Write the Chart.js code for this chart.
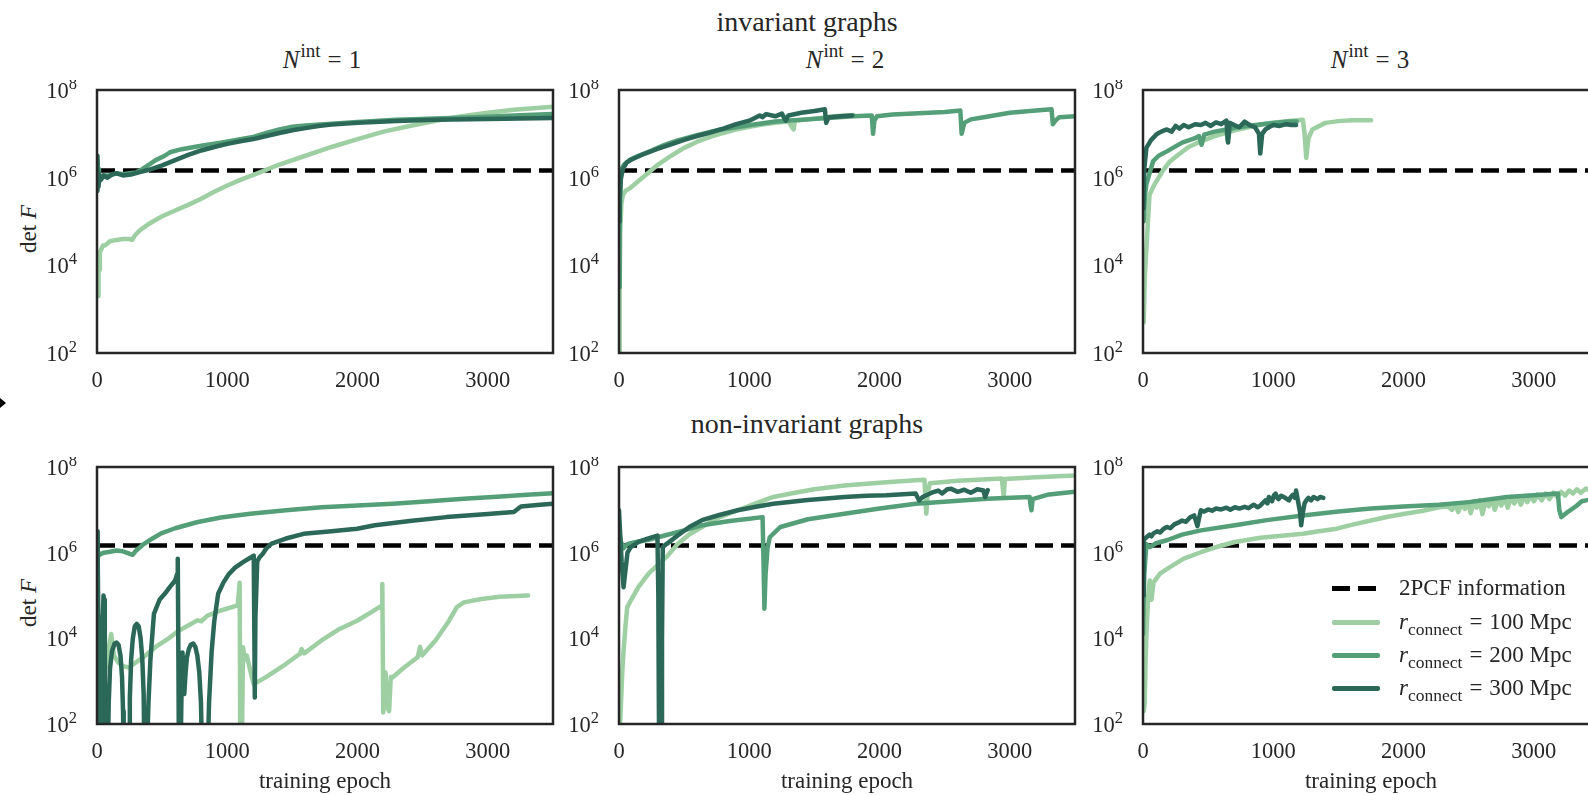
<!DOCTYPE html>
<html>
<head>
<meta charset="utf-8">
<script src="https://cdn.jsdelivr.net/npm/chart.js@4.4.1/dist/chart.umd.min.js"></script>
<style>
  html, body { margin: 0; padding: 0; background: #fff; }
  body { width: 1588px; height: 795px; position: relative; overflow: hidden;
         font-family: "Liberation Serif", "Times New Roman", serif; color: #262626; }
  canvas { position: absolute; }
  .rowTitle { position: absolute; font-size: 28px; transform: translate(-50%, -50%); white-space: nowrap; }
  .subTitle { position: absolute; font-size: 25px; transform: translate(-50%, -50%); white-space: nowrap; }
  .subTitle sup { font-size: 19px; vertical-align: 0; position: relative; top: -11px; margin-left: 1px; }
  .eq { margin: 0 7px; }
  .ylab { position: absolute; font-size: 23px; white-space: nowrap; transform: translate(-50%, -50%) rotate(-90deg); }
  .legRow { position: absolute; font-size: 23px; white-space: nowrap; transform: translateY(-50%); }
  .legRow sub { font-size: 17.5px; vertical-align: 0; position: relative; top: 6px; }
  .legLine { position: absolute; height: 4.5px; width: 48px; }
  .marker { position: absolute; left: 0; top: 398px; width: 0; height: 0;
            border-left: 6px solid #000; border-top: 5px solid transparent; border-bottom: 5px solid transparent; }
</style>
</head>
<body>
<div class="marker"></div>

<div class="rowTitle" style="left:807px; top:22px;">invariant graphs</div>
<div class="rowTitle" style="left:807px; top:424px;">non-invariant graphs</div>

<div class="subTitle" style="left:322px; top:60px;"><i>N</i><sup>int</sup><span class="eq">=</span>1</div>
<div class="subTitle" style="left:845px; top:60px;"><i>N</i><sup>int</sup><span class="eq">=</span>2</div>
<div class="subTitle" style="left:1370px; top:60px;"><i>N</i><sup>int</sup><span class="eq">=</span>3</div>

<div class="ylab" style="left:29px; top:229px;">det <i>F</i></div>
<div class="ylab" style="left:29px; top:603px;">det <i>F</i></div>

<canvas id="c1"></canvas>
<canvas id="c2"></canvas>
<canvas id="c3"></canvas>
<canvas id="c4"></canvas>
<canvas id="c5"></canvas>
<canvas id="c6"></canvas>

<div id="legend"></div>

<script>
// =========================
// DATA  ([epoch, log10 det F])
// =========================
const xTicks = [0, 1000, 2000, 3000];
const yExponents = [2, 4, 6, 8];
const twoPCF = 6.165;            // log10 of the 2PCF information level
const seriesNames = ['100', '200', '300'];   // r_connect in Mpc

// invariant graphs, N_int = 1
const inv1_r100 = [[8,3.3],[12,4.2],[16,3.9],[22,4.3],[30,4.35],[45,4.45],[60,4.45],[80,4.5],[100,4.55],[150,4.58],[200,4.6],[250,4.6],[270,4.58],[290,4.68],[330,4.8],[400,4.95],[500,5.12],[600,5.25],[700,5.38],[800,5.52],[900,5.68],[1000,5.82],[1100,5.95],[1250,6.12],[1400,6.3],[1600,6.5],[1800,6.7],[2000,6.88],[2200,7.05],[2400,7.18],[2600,7.3],[2800,7.4],[3000,7.48],[3200,7.55],[3500,7.62]];
const inv1_r200 = [[0,6.0],[3,6.4],[6,5.8],[10,6.2],[15,5.9],[25,6.05],[40,6.0],[60,6.05],[100,6.05],[150,6.1],[200,6.08],[250,6.1],[300,6.12],[350,6.2],[400,6.3],[450,6.4],[520,6.5],[560,6.58],[650,6.65],[800,6.73],[950,6.8],[1100,6.88],[1200,6.93],[1300,7.02],[1400,7.1],[1500,7.16],[1600,7.19],[1800,7.23],[2000,7.27],[2300,7.32],[2600,7.35],[2900,7.38],[3200,7.42],[3500,7.45]];
const inv1_r300 = [[0,6.0],[2,6.5],[5,5.7],[8,6.1],[12,5.8],[18,6.05],[30,5.95],[50,6.05],[80,6.0],[120,6.08],[150,6.1],[200,6.05],[260,6.07],[320,6.12],[400,6.18],[500,6.28],[600,6.4],[700,6.52],[800,6.62],[900,6.7],[1000,6.77],[1100,6.83],[1200,6.88],[1300,6.95],[1400,7.02],[1500,7.08],[1600,7.13],[1700,7.18],[1800,7.21],[2000,7.25],[2300,7.29],[2600,7.32],[3000,7.34],[3500,7.36]];

// invariant graphs, N_int = 2
const inv2_r100 = [[0,1.8],[5,3.5],[10,4.8],[18,5.4],[30,5.6],[50,5.7],[80,5.75],[120,5.85],[200,6.05],[300,6.3],[400,6.5],[500,6.68],[600,6.82],[700,6.93],[800,7.02],[900,7.1],[1000,7.16],[1100,7.21],[1200,7.25],[1300,7.28],[1340,7.1],[1350,7.3],[1450,7.33],[1550,7.36],[1650,7.4],[1800,7.43]];
const inv2_r200 = [[0,3.5],[5,5.0],[10,5.8],[20,6.2],[40,6.3],[80,6.4],[150,6.5],[250,6.62],[350,6.75],[450,6.85],[600,6.97],[750,7.08],[900,7.15],[1050,7.22],[1200,7.28],[1400,7.32],[1600,7.36],[1800,7.4],[1940,7.42],[1950,7.0],[1960,7.3],[1980,7.4],[2100,7.44],[2300,7.47],[2500,7.5],[2620,7.53],[2630,7.0],[2650,7.25],[2700,7.33],[2800,7.38],[3000,7.48],[3200,7.53],[3320,7.56],[3330,7.22],[3350,7.3],[3380,7.38],[3500,7.4]];
const inv2_r300 = [[0,5.0],[5,5.5],[15,6.0],[30,6.2],[60,6.35],[100,6.42],[200,6.55],[300,6.66],[400,6.76],[500,6.86],[600,6.95],[700,7.03],[800,7.12],[900,7.22],[1000,7.3],[1080,7.42],[1100,7.38],[1130,7.45],[1200,7.4],[1250,7.46],[1280,7.3],[1300,7.42],[1400,7.48],[1500,7.52],[1580,7.56],[1590,7.25],[1610,7.38],[1700,7.4],[1790,7.42]];

// invariant graphs, N_int = 3
const inv3_r100 = [[5,2.7],[15,3.8],[30,4.6],[50,5.6],[80,5.8],[104,5.92],[150,6.15],[200,6.35],[261,6.5],[350,6.7],[444,6.83],[550,6.95],[705,7.08],[850,7.18],[966,7.24],[1100,7.29],[1227,7.32],[1240,7.0],[1253,6.45],[1270,6.9],[1300,7.1],[1400,7.25],[1500,7.29],[1600,7.31],[1750,7.31]];
const inv3_r200 = [[5,5.0],[15,5.6],[26,5.85],[50,6.1],[78,6.38],[120,6.5],[183,6.6],[300,6.8],[400,6.9],[430,6.95],[450,6.75],[470,6.98],[550,7.05],[640,7.1],[650,6.85],[665,7.1],[705,7.14],[800,7.18],[914,7.22],[1000,7.25],[1123,7.28],[1180,7.28]];
const inv3_r300 = [[3,5.3],[10,6.2],[26,6.68],[60,6.85],[104,6.99],[140,7.05],[183,7.1],[220,7.05],[250,7.18],[280,7.12],[313,7.2],[350,7.15],[400,7.22],[444,7.2],[480,7.25],[520,7.18],[560,7.26],[600,7.22],[640,7.3],[653,6.8],[665,7.25],[700,7.2],[740,7.15],[780,7.28],[820,7.2],[860,7.15],[890,7.0],[900,6.55],[915,7.0],[940,7.1],[966,7.15],[1000,7.2],[1050,7.18],[1100,7.22],[1140,7.2],[1175,7.2]];

// non-invariant graphs, N_int = 1
const non1_r100 = [[0,1.0],[8,1.5],[12,3.5],[20,2.8],[30,3.3],[50,3.0],[80,3.6],[109,4.1],[130,3.6],[160,3.45],[200,3.35],[246,3.32],[280,3.4],[355,3.56],[450,3.8],[550,4.0],[629,4.18],[700,4.3],[770,4.42],[800,4.4],[848,4.53],[950,4.65],[1080,4.77],[1095,5.3],[1100,1.0],[1110,1.0],[1121,3.79],[1135,3.5],[1150,3.6],[1180,3.2],[1203,2.93],[1300,3.1],[1449,3.4],[1558,3.64],[1570,3.75],[1590,3.65],[1723,3.95],[1850,4.2],[1996,4.41],[2100,4.6],[2188,4.77],[2190,5.27],[2197,2.27],[2215,3.2],[2225,2.4],[2242,2.3],[2255,3.1],[2270,3.09],[2350,3.3],[2461,3.56],[2480,3.8],[2495,3.6],[2598,3.95],[2700,4.4],[2762,4.73],[2816,4.84],[2950,4.92],[3090,4.97],[3309,5.0]];
const non1_r200 = [[0,6.4],[5,5.8],[10,6.0],[20,5.95],[50,6.0],[100,6.02],[150,6.05],[200,6.03],[273,5.95],[300,6.05],[350,6.18],[420,6.32],[492,6.45],[600,6.57],[766,6.71],[950,6.82],[1176,6.91],[1450,6.99],[1723,7.06],[2000,7.1],[2270,7.14],[2550,7.2],[2816,7.26],[3100,7.31],[3300,7.35],[3500,7.39]];
const non1_r300 = [[0,6.5],[5,6.0],[10,4.5],[15,3.0],[20,1.0],[30,1.0],[40,4.0],[50,5.0],[55,4.9],[60,3.0],[70,1.0],[82,1.0],[90,2.5],[100,3.3],[115,3.7],[135,3.88],[150,3.9],[165,3.85],[180,3.6],[192,3.1],[200,2.3],[205,1.0],[246,1.0],[252,2.6],[262,3.5],[275,4.0],[290,4.28],[305,4.34],[320,4.28],[335,4.0],[348,3.5],[358,2.7],[365,1.0],[380,1.0],[395,2.5],[410,3.5],[437,4.57],[480,4.9],[520,5.04],[560,5.2],[600,5.35],[615,5.5],[620,5.86],[625,3.48],[629,1.0],[640,1.0],[650,3.0],[656,3.67],[662,3.2],[670,2.7],[680,3.2],[690,3.55],[705,3.75],[720,3.85],[738,3.88],[755,3.8],[770,3.6],[785,3.2],[798,2.5],[808,1.0],[848,1.0],[860,2.5],[880,3.7],[900,4.4],[930,5.04],[970,5.3],[1012,5.5],[1060,5.65],[1121,5.78],[1170,5.87],[1203,5.93],[1208,4.0],[1211,2.62],[1216,4.5],[1230,5.8],[1250,5.9],[1271,5.97],[1300,6.1],[1340,6.21],[1450,6.33],[1586,6.44],[1800,6.5],[1996,6.56],[2133,6.64],[2400,6.74],[2680,6.83],[3000,6.9],[3199,6.95],[3254,7.08],[3400,7.12],[3500,7.14]];

// non-invariant graphs, N_int = 2
const non2_r100 = [[0,1.8],[10,2.1],[25,3.2],[35,3.71],[50,4.3],[63,4.73],[90,4.88],[150,5.2],[227,5.51],[300,5.72],[364,5.9],[450,6.2],[537,6.42],[637,6.6],[750,6.8],[911,6.99],[1050,7.15],[1184,7.3],[1350,7.4],[1500,7.48],[1730,7.57],[2000,7.63],[2277,7.69],[2345,7.7],[2352,7.2],[2359,6.91],[2370,7.4],[2386,7.62],[2600,7.68],[2939,7.73],[2946,7.5],[2953,7.3],[2962,7.72],[3200,7.76],[3500,7.8]];
const non2_r200 = [[0,6.5],[15,6.25],[35,6.1],[63,6.2],[130,6.25],[227,6.3],[350,6.4],[500,6.52],[637,6.64],[850,6.74],[1000,6.79],[1102,6.83],[1108,6.0],[1116,4.69],[1125,5.5],[1140,6.1],[1157,6.36],[1239,6.6],[1450,6.78],[1730,6.91],[2000,7.03],[2277,7.14],[2550,7.2],[2824,7.26],[3152,7.3],[3159,7.1],[3166,6.99],[3175,7.25],[3300,7.36],[3500,7.42]];
const non2_r300 = [[0,6.99],[8,6.5],[20,5.8],[35,5.19],[50,5.6],[65,6.0],[90,6.13],[150,6.25],[220,6.33],[295,6.4],[302,5.0],[305,3.0],[309,1.0],[325,1.0],[330,4.0],[336,6.13],[364,6.2],[450,6.4],[540,6.6],[637,6.76],[770,6.88],[911,6.99],[1050,7.07],[1184,7.14],[1450,7.23],[1730,7.3],[1900,7.33],[2050,7.34],[2150,7.36],[2277,7.38],[2290,7.3],[2304,7.22],[2330,7.3],[2400,7.4],[2450,7.45],[2480,7.38],[2520,7.48],[2550,7.49],[2600,7.42],[2650,7.47],[2700,7.4],[2750,7.48],[2797,7.45],[2810,7.3],[2830,7.46]];

// non-invariant graphs, N_int = 3
const non3_r100 = [[5,2.3],[13,2.47],[20,3.5],[26,4.1],[40,5.0],[52,5.35],[60,5.0],[65,4.9],[80,5.3],[130,5.51],[200,5.65],[313,5.86],[444,6.01],[550,6.12],[705,6.25],[900,6.35],[1227,6.44],[1350,6.5],[1488,6.56],[1600,6.65],[1749,6.75],[1880,6.84],[2010,6.91],[2150,6.98],[2272,7.06],[2340,7.08],[2370,7.0],[2400,7.12],[2420,6.95],[2445,7.15],[2470,7.02],[2495,7.18],[2515,6.92],[2540,7.2],[2560,7.05],[2585,7.22],[2605,6.9],[2630,7.2],[2655,7.08],[2680,7.25],[2700,7.0],[2725,7.24],[2750,7.1],[2775,7.28],[2800,7.05],[2825,7.3],[2850,7.15],[2875,7.3],[2900,7.12],[2925,7.32],[2950,7.18],[2975,7.33],[3000,7.2],[3030,7.36],[3060,7.22],[3090,7.38],[3120,7.25],[3150,7.4],[3180,7.3],[3210,7.42],[3240,7.33],[3270,7.45],[3300,7.38],[3330,7.48],[3360,7.4],[3400,7.5],[3430,7.45],[3473,7.61],[3500,7.62]];
const non3_r200 = [[0,4.1],[10,5.5],[26,6.2],[52,6.13],[100,6.22],[183,6.29],[300,6.42],[444,6.52],[705,6.64],[950,6.76],[1227,6.87],[1500,6.96],[1749,7.03],[2000,7.08],[2272,7.12],[2500,7.18],[2794,7.3],[3000,7.34],[3185,7.38],[3195,7.0],[3211,6.83],[3260,6.95],[3330,7.1],[3368,7.2],[3400,7.22],[3500,7.28]];
const non3_r300 = [[0,5.0],[5,6.3],[26,6.36],[50,6.42],[65,6.38],[80,6.45],[110,6.5],[130,6.47],[160,6.56],[183,6.6],[210,6.57],[240,6.66],[270,6.7],[300,6.75],[330,6.72],[360,6.82],[392,6.87],[405,6.75],[418,6.62],[430,6.8],[444,6.99],[470,6.96],[500,7.01],[530,6.98],[560,7.03],[600,7.01],[640,7.05],[670,7.0],[705,7.06],[740,7.03],[780,7.07],[810,7.04],[850,7.12],[880,7.06],[900,7.1],[920,7.16],[940,7.22],[955,7.15],[966,7.3],[990,7.2],[1005,7.34],[1018,7.38],[1030,7.28],[1040,7.25],[1060,7.33],[1080,7.3],[1100,7.26],[1120,7.22],[1135,7.3],[1150,7.35],[1165,7.28],[1175,7.45],[1190,7.2],[1205,6.95],[1214,6.64],[1225,6.9],[1240,7.15],[1253,7.22],[1270,7.28],[1290,7.22],[1310,7.3],[1340,7.25],[1360,7.3],[1384,7.28]];

// =========================
// STYLE / LAYOUT
// =========================
const seriesColors = ['#9dcfa3', '#549e78', '#2b6858'];
const inkColor = '#262626';
const fontFamily = '"Liberation Serif", "Times New Roman", serif';
const plotW = 456;
const padL = 90, padT = 10, padR = 10;

const panels = [
    { id: 'c1', left: 97,   top: 90,  h: 263, series: [inv1_r100, inv1_r200, inv1_r300], xTitle: false },
    { id: 'c2', left: 619,  top: 90,  h: 263, series: [inv2_r100, inv2_r200, inv2_r300], xTitle: false },
    { id: 'c3', left: 1143, top: 90,  h: 263, series: [inv3_r100, inv3_r200, inv3_r300], xTitle: false },
    { id: 'c4', left: 97,   top: 467, h: 257, series: [non1_r100, non1_r200, non1_r300], xTitle: true },
    { id: 'c5', left: 619,  top: 467, h: 257, series: [non2_r100, non2_r200, non2_r300], xTitle: true },
    { id: 'c6', left: 1143, top: 467, h: 257, series: [non3_r100, non3_r200, non3_r300], xTitle: true }
];

// =========================
// PLUGINS
// =========================
const framePlugin = {
    id: 'frame',
    afterDraw(chart) {
        const { ctx, chartArea: a } = chart;
        ctx.save();
        ctx.strokeStyle = inkColor;
        ctx.lineWidth = 2.5;
        ctx.strokeRect(a.left, a.top, a.right - a.left, a.bottom - a.top);
        ctx.restore();
    }
};

// y tick labels as 10 with a raised exponent
const logTickPlugin = {
    id: 'logTicks',
    afterDraw(chart) {
        const ctx = chart.ctx;
        const y = chart.scales.y;
        const right = chart.chartArea.left - 20;
        ctx.save();
        ctx.fillStyle = inkColor;
        ctx.textAlign = 'left';
        ctx.textBaseline = 'alphabetic';
        yExponents.forEach(e => {
            const py = y.getPixelForValue(Math.pow(10, e));
            ctx.font = '16.5px ' + fontFamily;
            const sw = ctx.measureText(String(e)).width;
            ctx.font = '22.5px ' + fontFamily;
            const bw = ctx.measureText('10').width;
            ctx.fillText('10', right - sw - bw, py + 8);
            ctx.font = '16.5px ' + fontFamily;
            ctx.fillText(String(e), right - sw, py - 1);
        });
        ctx.restore();
    }
};

// =========================
// CHARTS
// =========================
function makePanel(p) {
    const B = p.xTitle ? 72 : 45;
    const canvas = document.getElementById(p.id);
    canvas.width = padL + plotW + padR;
    canvas.height = padT + p.h + B;
    canvas.style.left = (p.left - padL) + 'px';
    canvas.style.top = (p.top - padT) + 'px';

    const level = Math.pow(10, twoPCF);
    const datasets = [{
        label: '2PCF information',
        data: [{ x: 0, y: level }, { x: 3500, y: level }],
        borderColor: '#000',
        borderWidth: 4.5,
        borderDash: [18, 8],
        pointRadius: 0,
        order: 3
    }];
    p.series.forEach((arr, i) => {
        datasets.push({
            label: 'r_connect = ' + seriesNames[i] + ' Mpc',
            data: arr.map(pt => ({ x: pt[0], y: Math.pow(10, pt[1]) })),
            borderColor: seriesColors[i],
            borderWidth: 4.5,
            borderJoinStyle: 'round',
            borderCapStyle: 'round',
            pointRadius: 0,
            tension: 0,
            order: 2 - i
        });
    });

    return new Chart(canvas, {
        type: 'line',
        data: { datasets: datasets },
        options: {
            responsive: false,
            animation: false,
            events: [],
            layout: { padding: { left: 0, top: padT, right: padR, bottom: 0 } },
            plugins: { legend: { display: false }, tooltip: { enabled: false } },
            scales: {
                x: {
                    type: 'linear', min: 0, max: 3500,
                    grid: { display: false, drawTicks: false },
                    border: { display: false },
                    afterBuildTicks: s => { s.ticks = xTicks.map(v => ({ value: v })); },
                    ticks: {
                        autoSkip: false, maxRotation: 0, padding: 15, color: inkColor,
                        font: { family: fontFamily, size: 22.5 },
                        callback: v => String(v)
                    },
                    title: {
                        display: p.xTitle, text: 'training epoch', color: inkColor,
                        font: { family: fontFamily, size: 23 },
                        padding: { top: 0, bottom: 0 }
                    },
                    afterFit: s => { s.height = B; }
                },
                y: {
                    type: 'logarithmic', min: 1e2, max: 1e8,
                    grid: { display: false, drawTicks: false },
                    border: { display: false },
                    ticks: { display: false },
                    afterBuildTicks: s => { s.ticks = yExponents.map(e => ({ value: Math.pow(10, e) })); },
                    afterFit: s => { s.width = padL; }
                }
            }
        },
        plugins: [framePlugin, logTickPlugin]
    });
}

panels.forEach(makePanel);

// =========================
// LEGEND (bottom right panel)
// =========================
function buildLegend() {
    const box = document.getElementById('legend');
    const rRow = n => '<i>r</i><sub>connect</sub><span class="eq">=</span>' + n + ' Mpc';
    const rows = [
        { y: 588, dash: true, html: '2PCF information' },
        { y: 622, color: seriesColors[0], html: rRow(seriesNames[0]) },
        { y: 655, color: seriesColors[1], html: rRow(seriesNames[1]) },
        { y: 688, color: seriesColors[2], html: rRow(seriesNames[2]) }
    ];
    rows.forEach(r => {
        const line = document.createElement('div');
        line.className = 'legLine';
        line.style.left = '1332px';
        line.style.top = (r.y - 2) + 'px';
        line.style.background = r.dash
            ? 'repeating-linear-gradient(to right, #000 0 18px, transparent 18px 26px)'
            : r.color;
        if (!r.dash) line.style.borderRadius = '2px';
        box.appendChild(line);

        const txt = document.createElement('div');
        txt.className = 'legRow';
        txt.style.left = '1399px';
        txt.style.top = r.y + 'px';
        txt.innerHTML = r.html;
        box.appendChild(txt);
    });
}

buildLegend();
</script>
</body>
</html>
